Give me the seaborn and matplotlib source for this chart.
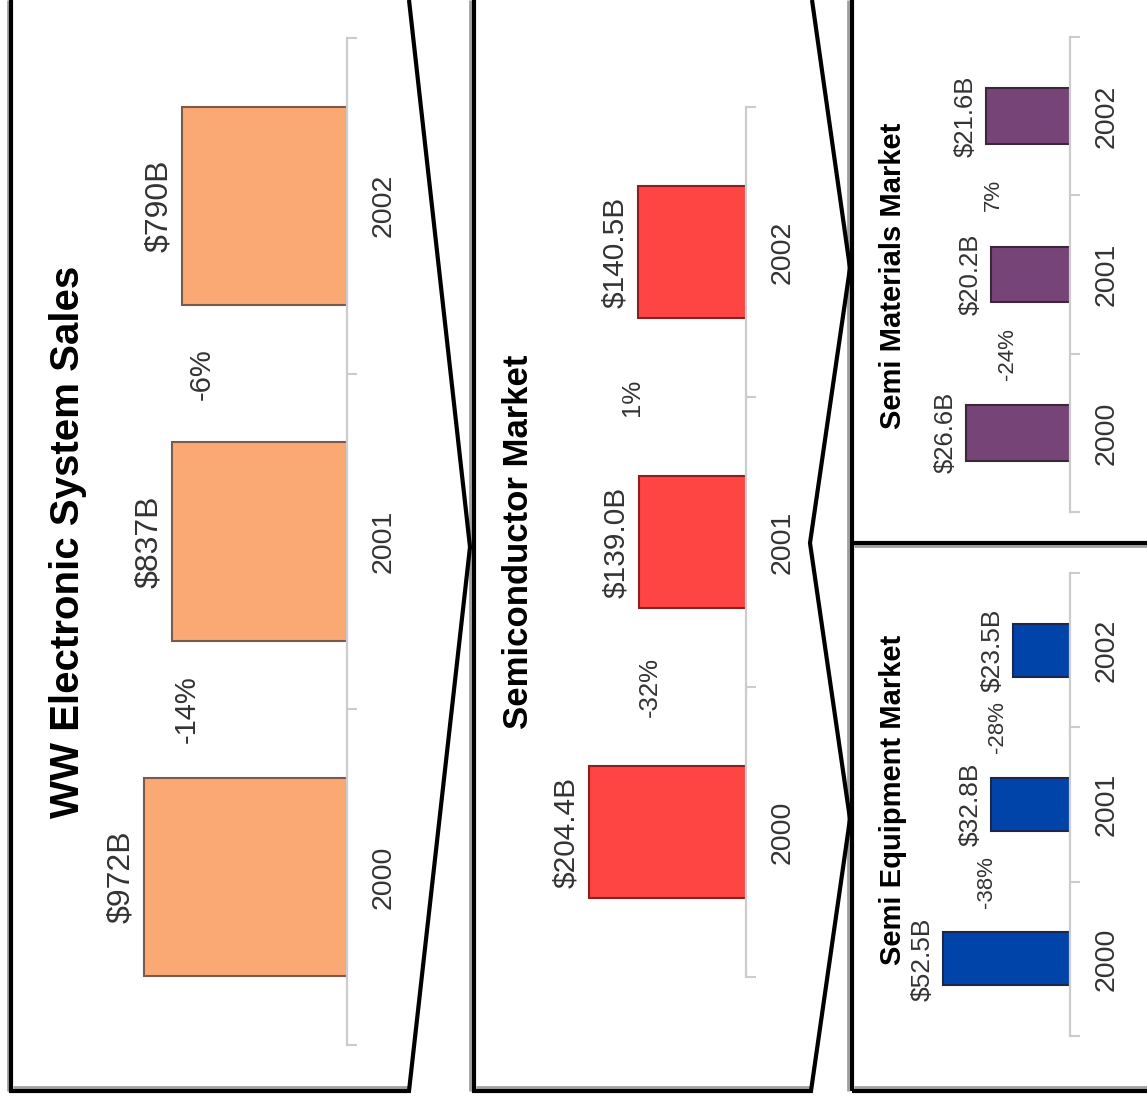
import matplotlib
matplotlib.use("Agg")
import matplotlib.pyplot as plt
import pandas as pd
import seaborn as sns

# ---- data -------------------------------------------------------------
years = ["2000", "2001", "2002"]
ww_sales = [972, 837, 790]           # WW electronic system sales, $B
semi_market = [204.4, 139.0, 140.5]  # semiconductor market, $B
materials = [26.6, 20.2, 21.6]       # semi materials market, $B
equipment = [52.5, 32.8, 23.5]       # semi equipment market, $B

# ---- page geometry (pixels, origin top-left) --------------------------
W, H = 1147, 1101
sns.set_style("white")
plt.rcParams["font.family"] = ["Liberation Sans", "DejaVu Sans"]

panels = [
    dict(values=ww_sales, fmt="${:.0f}B", title="WW Electronic System Sales",
         color="#FBA974", edge="#7a5a4a",
         axis_x=347, left_x=40, top=38, bottom=1045, ppu=0.2088, width=0.59,
         title_xy=(68, 542), title_size=29, value_size=23, pct_size=21,
         pct_pos=[766, 694]),
    dict(values=semi_market, fmt="${:.1f}B", title="Semiconductor Market",
         color="#FF4444", edge="#8a2020",
         axis_x=746, left_x=480, top=107, bottom=977, ppu=0.77, width=0.455,
         title_xy=(518, 542), title_size=25, value_size=21.5, pct_size=18.5,
         pct_pos=[125, 148]),
    dict(values=materials, fmt="${:.1f}B", title="Semi Materials Market",
         color="#774477", edge="#3a283a",
         axis_x=1070, left_x=880, top=37, bottom=512, ppu=3.9, width=0.35,
         title_xy=(893, 276), title_size=21, value_size=18.5, pct_size=16,
         pct_pos=[15.9, 19.7]),
    dict(values=equipment, fmt="${:.1f}B", title="Semi Equipment Market",
         color="#0044AA", edge="#1a2850",
         axis_x=1070, left_x=880, top=573, bottom=1036, ppu=2.42, width=0.345,
         title_xy=(893, 800), title_size=21, value_size=19, pct_size=16,
         pct_pos=[34.3, 29.8]),
]

fig = plt.figure(figsize=(W / 100, H / 100), dpi=100)
fig.patch.set_facecolor("white")

# ---- panel frames -------------------------------------------------------
frame = fig.add_axes([0, 0, 1, 1])
frame.set_xlim(0, W)
frame.set_ylim(H, 0)
frame.axis("off")
shadow = dict(color="#a0a0a0", lw=2, solid_capstyle="butt")
black = dict(color="black", lw=3, solid_joinstyle="miter", solid_capstyle="butt")
# shadows
frame.plot([8, 8], [0, 1091], **shadow)
frame.plot([13, 408], [1087, 1087], **shadow)
frame.plot([470, 470], [0, 1091], **shadow)
frame.plot([476, 811], [1087, 1087], **shadow)
frame.plot([848, 848], [0, 1091], **shadow)
frame.plot([854, W], [546, 546], **shadow)
frame.plot([854, W], [1087, 1087], **shadow)
# left panel with arrow edge
frame.plot([11, 11, 409, 470, 409], [0, 1091, 1091, 547, 0], **black)
# middle panel with double arrow edge
frame.plot([474, 474, 811, 850, 810, 850, 812],
           [0, 1091, 1091, 819, 543, 268, 0], **black)
# right stacked panels
frame.plot([852, 852], [0, 1091], **black)
frame.plot([852, W], [543, 543], **black)
frame.plot([852, W], [1091, 1091], **black)

order = years[::-1]
label_color = "#333333"
axis_color = "#cccccc"

for p in panels:
    ax_w = p["axis_x"] - p["left_x"]
    ax_h = p["bottom"] - p["top"]
    ax = fig.add_axes([p["left_x"] / W, 1 - p["bottom"] / H, ax_w / W, ax_h / H])
    ax.set_facecolor("none")

    df = pd.DataFrame({"year": years, "value": p["values"]})
    sns.barplot(data=df, x="value", y="year", order=order, orient="h",
                color=p["color"], saturation=1, edgecolor=p["edge"],
                linewidth=1.5, width=p["width"], ax=ax)

    ax.set_xlim(ax_w / p["ppu"], 0)
    ax.set_ylim(2.5, -0.5)
    ax.set_xlabel("")
    ax.set_ylabel("")
    ax.xaxis.set_visible(False)
    for side in ("left", "top", "bottom"):
        ax.spines[side].set_visible(False)
    ax.spines["right"].set_visible(True)
    ax.spines["right"].set_color(axis_color)
    ax.spines["right"].set_linewidth(1.6)

    ax.yaxis.tick_right()
    ax.set_yticks([-0.5, 0.5, 1.5, 2.5], minor=True)
    ax.tick_params(axis="y", which="minor", right=True, left=False,
                   length=7, width=1.5, color=axis_color)
    ax.tick_params(axis="y", which="major", right=True, left=False,
                   length=0, pad=17, labelsize=20.5, labelcolor=label_color)
    for lbl in ax.get_yticklabels():
        lbl.set_rotation(90)
        lbl.set_va("center")
        lbl.set_ha("left")

    # value labels at the bar ends
    for j, v in enumerate(p["values"]):
        ax.annotate(p["fmt"].format(v), xy=(v, 2 - j), xytext=(-6, 0),
                    textcoords="offset points", rotation=90, ha="right",
                    va="center", fontsize=p["value_size"], color=label_color)

    # year-over-year change between neighbouring bars
    for i in range(len(years) - 1):
        change = (p["values"][i + 1] / p["values"][i] - 1) * 100
        ax.text(p["pct_pos"][i], 1.5 - i, f"{change:.0f}%", rotation=90,
                ha="center", va="center", fontsize=p["pct_size"],
                color=label_color)

    fig.text(p["title_xy"][0] / W, 1 - p["title_xy"][1] / H, p["title"],
             rotation=90, ha="center", va="center", fontsize=p["title_size"],
             fontweight="bold", color="black")

fig.savefig("out.png", dpi=100, facecolor="white")
